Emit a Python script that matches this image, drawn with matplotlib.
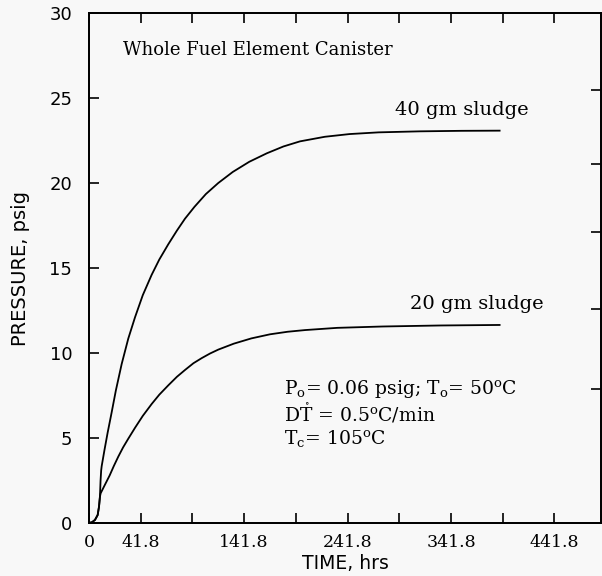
import matplotlib
matplotlib.use("Agg")
import matplotlib.pyplot as plt

# Pressure build-up curves
time_40 = [0, 3, 5.8, 8.4, 9.7, 10.6, 11.2, 11.8, 12.3, 15, 18, 21.9, 26, 31.6, 38, 44.5,
           52, 60.6, 68, 76.7, 85, 92.8, 102, 113, 125, 139, 155, 172, 188, 204,
           228, 252, 280, 320, 360, 397]
pres_40 = [0, 0.05, 0.18, 0.47, 0.96, 1.55, 2.5, 3.1, 3.35, 4.3, 5.3, 6.5, 7.8, 9.35, 10.85, 12.1,
           13.4, 14.6, 15.5, 16.4, 17.2, 17.9, 18.6, 19.35, 20.0, 20.65, 21.25, 21.75, 22.15, 22.45,
           22.72, 22.88, 22.98, 23.04, 23.07, 23.08]

time_20 = [0, 3, 5.8, 8.4, 9.7, 10.6, 11.3, 15, 20, 24, 28.3, 33, 37.9, 44.5, 52, 60.6, 68,
           76.7, 85, 92.8, 101, 109, 117, 125, 140, 157, 175, 192, 209, 240, 284, 340, 397]
pres_20 = [0, 0.05, 0.18, 0.47, 0.96, 1.55, 1.75, 2.2, 2.8, 3.35, 3.9, 4.45, 4.95, 5.6, 6.3, 7.0, 7.55,
           8.1, 8.6, 9.0, 9.4, 9.7, 9.97, 10.2, 10.55, 10.86, 11.1, 11.25, 11.35, 11.48, 11.56, 11.62, 11.65]

x_ticks = [0, 50, 100, 150, 200, 250, 300, 350, 400, 450]
x_tick_txt = ["0", "41.8", "", "141.8", "", "241.8", "", "341.8", "", "441.8"]
y_ticks = [0, 5, 10, 15, 20, 25, 30]
right_ticks = [7.9, 12.6, 17.1, 21.1, 25.5]

bg = "#f8f8f8"
serif = "DejaVu Serif"
sans = "DejaVu Sans"
plt.rcParams["mathtext.fontset"] = "dejavuserif"

fig = plt.figure(figsize=(6.02, 5.76), dpi=100, facecolor=bg)
ax = fig.add_axes([0.1478, 0.092, 0.8505, 0.8854])
ax.set_facecolor(bg)

ax.plot(time_40, pres_40, color="black", lw=1.3)
ax.plot(time_20, pres_20, color="black", lw=1.3)

ax.set_xlim(0, 495)
ax.set_ylim(0, 30)

ax.set_xticks(x_ticks)
ax.set_xticklabels(x_tick_txt, family=serif, fontsize=12.5)
ax.tick_params(axis="x", direction="in", length=7, width=1.2, top=True, pad=8)

ax.set_yticks(y_ticks)
ax.set_yticklabels([str(v) for v in y_ticks], family=sans, fontsize=13)
ax.tick_params(axis="y", direction="in", length=7, width=1.2, pad=12)

ax2 = ax.twinx()
ax2.set_ylim(0, 30)
ax2.set_yticks(right_ticks)
ax2.set_yticklabels([])
ax2.tick_params(axis="y", direction="in", length=7, width=1.2)

for a in (ax, ax2):
    for s in a.spines.values():
        s.set_linewidth(1.3)
        s.set_clip_on(False)

ax.set_xlabel("TIME, hrs", family=sans, fontsize=13.5, labelpad=2)
ax.set_ylabel("PRESSURE, psig", family=sans, fontsize=14, labelpad=14)

ax.text(33, 27.8, "Whole Fuel Element Canister", family=serif, fontsize=13, va="center")
ax.text(296, 24.3, "40 gm sludge", family=serif, fontsize=14, va="center")
ax.text(310, 12.9, "20 gm sludge", family=serif, fontsize=14, va="center")
ax.text(189, 7.9, r"P$_{\rm o}$= 0.06 psig; T$_{\rm o}$= 50$^{\rm o}$C",
        family=serif, fontsize=13.5, va="center")
ax.text(189, 6.45, r"D$\mathring{\rm T}$ = 0.5$^{\rm o}$C/min",
        family=serif, fontsize=13.5, va="center")
ax.text(189, 5.0, r"T$_{\rm c}$= 105$^{\rm o}$C",
        family=serif, fontsize=13.5, va="center")

fig.savefig("out.png", dpi=100, facecolor=bg)
